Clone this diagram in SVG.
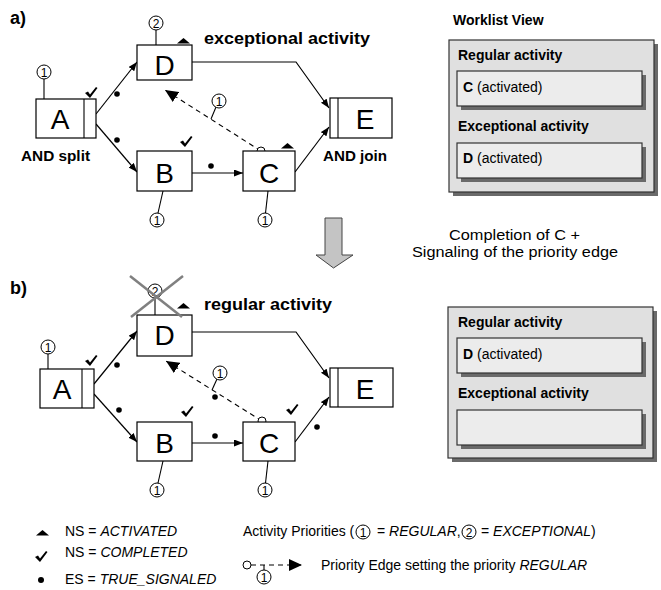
<svg xmlns="http://www.w3.org/2000/svg" width="661" height="590" viewBox="0 0 661 590">
<style>
.box{fill:#fff;stroke:#000;stroke-width:1.2}
.lbl{font-family:"Liberation Sans",Arial,sans-serif;font-size:28px;text-anchor:middle}
.bold{font-family:"Liberation Sans",Arial,sans-serif;font-weight:bold}
.txt{font-family:"Liberation Sans",Arial,sans-serif;font-size:14px}
.num{font-family:"Liberation Sans",Arial,sans-serif;font-size:12px;text-anchor:middle}
.pc{fill:#fff;stroke:#000;stroke-width:1}
.edge{fill:none;stroke:#000;stroke-width:1.2}
.dash{fill:none;stroke:#000;stroke-width:1.1;stroke-dasharray:5,4}
.stem{stroke:#000;stroke-width:1.1}
.wl{fill:#e0e0e0;stroke:#333;stroke-width:1.2}
.wi{fill:#ececec;stroke:#333;stroke-width:1.2}
.sh{fill:#6a6a6a}
</style>
<defs>
<marker id="arr" markerUnits="userSpaceOnUse" markerWidth="9" markerHeight="7" refX="9" refY="3.5" orient="auto"><path d="M0,0 L9,3.5 L0,7 z" fill="#000"/></marker>
<marker id="tri" markerUnits="userSpaceOnUse" markerWidth="13" markerHeight="12" refX="13" refY="6" orient="auto"><path d="M0,0 L13,6 L0,12 z" fill="#000"/></marker>
<path id="chk" d="M0,6 L3,4.5 L5,7.5 L11,0 L12.5,1 L5,11 z" fill="#000"/>
<path id="trg" d="M0,5.5 L6.5,0 L13,5.5 z" fill="#000"/>
</defs>

<!-- Part labels -->
<text class="bold" x="10" y="24" font-size="18">a)</text>
<text class="bold" x="10" y="294" font-size="18">b)</text>

<!-- ===== Part a connectors ===== -->
<g id="connectors-a">
<line class="edge" x1="96" y1="114" x2="137" y2="62" marker-end="url(#arr)"/>
<line class="edge" x1="96" y1="124" x2="137" y2="172" marker-end="url(#arr)"/>
<line class="edge" x1="192" y1="173" x2="243" y2="173" marker-end="url(#arr)"/>
<line class="edge" x1="295" y1="172" x2="329" y2="127" marker-end="url(#arr)"/>
<polyline class="edge" points="192,62 296,62 329,108" marker-end="url(#arr)"/>
<line class="dash" x1="261" y1="151" x2="165" y2="90" marker-end="url(#tri)"/>
<line class="stem" x1="211" y1="119" x2="216" y2="107"/>
<circle class="pc" cx="219" cy="101" r="7"/><text class="num" x="219" y="105.5">1</text>
<circle cx="117" cy="94" r="2.8"/>
<circle cx="117" cy="140" r="2.8"/>
<circle cx="211" cy="166" r="2.8"/>
<circle class="pc" cx="261" cy="151" r="4"/>
</g>

<!-- ===== Part a nodes ===== -->
<g id="a-A">
<rect class="box" x="36" y="99" width="60" height="39"/>
<line class="stem" x1="84" y1="99" x2="84" y2="138"/>
<text class="lbl" x="60" y="129">A</text>
<line class="stem" x1="44" y1="79" x2="44" y2="99"/>
<circle class="pc" cx="44" cy="72" r="7"/><text class="num" x="44" y="76.5">1</text>
<use href="#chk" x="85" y="87"/>
<text class="bold" x="21" y="161" font-size="15" textLength="69" lengthAdjust="spacingAndGlyphs">AND split</text>
</g>
<g id="a-D">
<rect class="box" x="137" y="45" width="55" height="35"/>
<text class="lbl" x="164.5" y="75">D</text>
<line class="stem" x1="156" y1="30" x2="156" y2="45"/>
<circle class="pc" cx="156" cy="23" r="7"/><text class="num" x="156" y="27.5">2</text>
<use href="#trg" x="177" y="38"/>
<text class="bold" x="204" y="44" font-size="17" textLength="166" lengthAdjust="spacingAndGlyphs">exceptional activity</text>
</g>
<g id="a-B">
<rect class="box" x="137" y="151" width="55" height="40"/>
<text class="lbl" x="164.5" y="183">B</text>
<line class="stem" x1="163" y1="191" x2="158" y2="213"/>
<circle class="pc" cx="157" cy="220" r="7"/><text class="num" x="157" y="224.5">1</text>
<use href="#chk" x="180" y="136"/>
</g>
<g id="a-C">
<rect class="box" x="243" y="151" width="52" height="40"/>
<text class="lbl" x="269" y="183">C</text>
<line class="stem" x1="268" y1="191" x2="265.5" y2="213"/>
<circle class="pc" cx="265" cy="220" r="7"/><text class="num" x="265" y="224.5">1</text>
<use href="#trg" x="281" y="143"/>
</g>
<g id="a-E">
<rect class="box" x="330" y="98" width="62" height="40"/>
<line class="stem" x1="338" y1="98" x2="338" y2="138"/>
<text class="lbl" x="365" y="129">E</text>
<text class="bold" x="323" y="161" font-size="15" textLength="64" lengthAdjust="spacingAndGlyphs">AND join</text>
</g>

<!-- ===== Worklist a ===== -->
<g id="worklist-a">
<text class="bold" x="453" y="25" font-size="14">Worklist View</text>
<rect class="sh" x="453" y="44" width="205" height="152"/>
<rect class="wl" x="449" y="40" width="205" height="152"/>
<text class="bold" x="458" y="60" font-size="14">Regular activity</text>
<rect class="sh" x="461" y="75" width="185" height="35"/>
<rect class="wi" x="457" y="71" width="185" height="35"/>
<text class="txt" x="463" y="92"><tspan font-weight="bold">C</tspan> (activated)</text>
<text class="bold" x="458" y="131" font-size="14">Exceptional activity</text>
<rect class="sh" x="461" y="147" width="185" height="35"/>
<rect class="wi" x="457" y="143" width="185" height="35"/>
<text class="txt" x="463" y="163"><tspan font-weight="bold">D</tspan> (activated)</text>
</g>

<!-- ===== Transition arrow ===== -->
<g id="transition">
<path d="M325,218 L342,218 L342,255 L353,255 L333.5,268 L316,255 L325,255 z" fill="#c4c4c4" stroke="#444" stroke-width="1"/>
<text class="txt" x="449" y="240" font-size="16" textLength="131" lengthAdjust="spacingAndGlyphs">Completion of C +</text>
<text class="txt" x="412" y="257" font-size="16" textLength="206" lengthAdjust="spacingAndGlyphs">Signaling of the priority edge</text>
</g>

<!-- ===== Part b connectors ===== -->
<g id="connectors-b">
<line class="edge" x1="94" y1="384" x2="137" y2="331" marker-end="url(#arr)"/>
<line class="edge" x1="94" y1="394" x2="137" y2="442" marker-end="url(#arr)"/>
<line class="edge" x1="192" y1="443" x2="243" y2="443" marker-end="url(#arr)"/>
<line class="edge" x1="295" y1="442" x2="329" y2="397" marker-end="url(#arr)"/>
<polyline class="edge" points="192,332 296,332 329,378" marker-end="url(#arr)"/>
<line class="dash" x1="262" y1="421" x2="166" y2="361" marker-end="url(#tri)"/>
<line class="stem" x1="212" y1="390" x2="217" y2="379"/>
<circle class="pc" cx="220" cy="373" r="7"/><text class="num" x="220" y="377.5">1</text>
<circle cx="117" cy="365" r="2.8"/>
<circle cx="119" cy="410" r="2.8"/>
<circle cx="215" cy="436" r="2.8"/>
<circle cx="215" cy="397" r="2.8"/>
<circle cx="317" cy="427" r="2.8"/>
<circle class="pc" cx="262" cy="421" r="4"/>
</g>

<!-- ===== Part b nodes ===== -->
<g id="b-A">
<rect class="box" x="40" y="369" width="54" height="39"/>
<line class="stem" x1="82" y1="369" x2="82" y2="408"/>
<text class="lbl" x="62" y="399">A</text>
<line class="stem" x1="48" y1="354" x2="48" y2="369"/>
<circle class="pc" cx="48" cy="347" r="7"/><text class="num" x="48" y="351.5">1</text>
<use href="#chk" x="85" y="355"/>
</g>
<g id="b-D">
<rect class="box" x="137" y="315" width="55" height="41"/>
<text class="lbl" x="164.5" y="345">D</text>
<line class="stem" x1="155" y1="298" x2="155" y2="315"/>
<circle class="pc" cx="155" cy="291" r="7"/><text class="num" x="155" y="295.5">2</text>
<line x1="130" y1="276" x2="182" y2="317" stroke="#808080" stroke-width="2.5"/>
<line x1="131" y1="317" x2="183" y2="276" stroke="#808080" stroke-width="2.5"/>
<use href="#trg" x="177" y="303"/>
<text class="bold" x="204" y="310" font-size="16" textLength="128" lengthAdjust="spacingAndGlyphs">regular activity</text>
</g>
<g id="b-B">
<rect class="box" x="137" y="422" width="55" height="39"/>
<text class="lbl" x="164.5" y="453">B</text>
<line class="stem" x1="163" y1="461" x2="158" y2="483"/>
<circle class="pc" cx="157" cy="490" r="7"/><text class="num" x="157" y="494.5">1</text>
<use href="#chk" x="181" y="406"/>
</g>
<g id="b-C">
<rect class="box" x="243" y="422" width="52" height="39"/>
<text class="lbl" x="269" y="453">C</text>
<line class="stem" x1="268" y1="461" x2="265.5" y2="483"/>
<circle class="pc" cx="265" cy="490" r="7"/><text class="num" x="265" y="494.5">1</text>
<use href="#chk" x="286" y="404"/>
</g>
<g id="b-E">
<rect class="box" x="330" y="368" width="63" height="39"/>
<line class="stem" x1="338" y1="368" x2="338" y2="407"/>
<text class="lbl" x="365" y="399">E</text>
</g>

<!-- ===== Worklist b ===== -->
<g id="worklist-b">
<rect class="sh" x="452" y="311" width="205" height="151"/>
<rect class="wl" x="448" y="307" width="205" height="151"/>
<text class="bold" x="458" y="327" font-size="14">Regular activity</text>
<rect class="sh" x="461" y="342" width="185" height="35"/>
<rect class="wi" x="457" y="338" width="185" height="35"/>
<text class="txt" x="463" y="359"><tspan font-weight="bold">D</tspan> (activated)</text>
<text class="bold" x="458" y="398" font-size="14">Exceptional activity</text>
<rect class="sh" x="461" y="414" width="185" height="35"/>
<rect class="wi" x="457" y="410" width="185" height="35"/>
</g>

<!-- ===== Legend ===== -->
<g id="legend">
<use href="#trg" x="36" y="530"/>
<text class="txt" x="65" y="536">NS = <tspan font-style="italic">ACTIVATED</tspan></text>
<use href="#chk" x="35" y="551"/>
<text class="txt" x="65" y="557">NS = <tspan font-style="italic">COMPLETED</tspan></text>
<circle cx="41" cy="580" r="3"/>
<text class="txt" x="65" y="584">ES = <tspan font-style="italic">TRUE_SIGNALED</tspan></text>

<text class="txt" x="243" y="536">Activity Priorities (</text>
<circle class="pc" cx="363" cy="532" r="7"/><text class="num" x="363" y="536.5">1</text>
<text class="txt" x="377" y="536">= <tspan font-style="italic">REGULAR</tspan>,</text>
<circle class="pc" cx="469" cy="532" r="7"/><text class="num" x="469" y="536.5">2</text>
<text class="txt" x="481" y="536">= <tspan font-style="italic">EXCEPTIONAL</tspan>)</text>

<circle class="pc" cx="247" cy="565" r="4"/>
<line class="dash" x1="251" y1="565" x2="302" y2="565" stroke-dasharray="4,4" marker-end="url(#tri)"/>
<line class="stem" x1="264" y1="565" x2="264" y2="570"/>
<circle class="pc" cx="264" cy="577" r="7"/><text class="num" x="264" y="581.5">1</text>
<text class="txt" x="321" y="570">Priority Edge setting the priority <tspan font-style="italic">REGULAR</tspan></text>
</g>
</svg>
